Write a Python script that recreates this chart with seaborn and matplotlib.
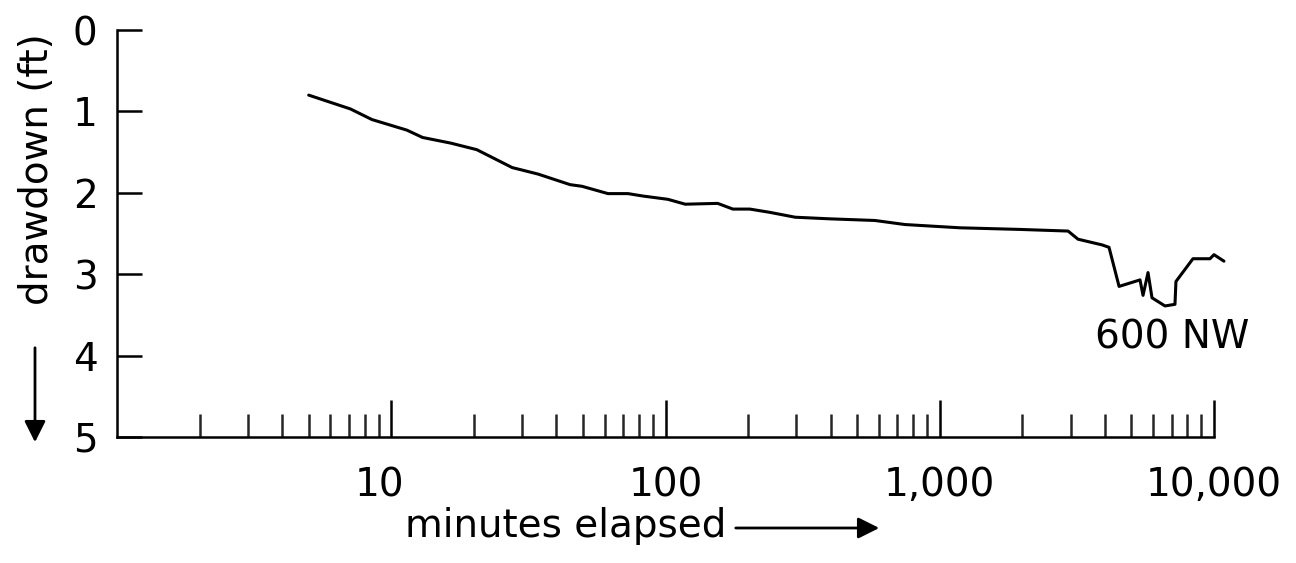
import matplotlib
matplotlib.use("Agg")
import matplotlib.pyplot as plt
import matplotlib.ticker as mticker
import matplotlib.transforms as mtransforms
import seaborn as sns
import pandas as pd

# data (minutes elapsed vs drawdown in ft)
minutes = [5.0, 7.1, 8.5, 11.4, 13.0, 16.5, 20.5, 27.6, 34.3, 44.9, 49.6, 61.7,
           73.0, 82.8, 102, 118, 155, 176, 203, 240, 297, 398, 580, 747, 1186,
           1962, 2937, 3192, 3907, 4142, 4507, 5373, 5511, 5747, 5942, 6627,
           7206, 7265, 8380, 9669, 10000, 10873]
drawdown = [0.80, 0.97, 1.10, 1.23, 1.32, 1.39, 1.47, 1.69, 1.77, 1.90, 1.92, 2.01,
            2.01, 2.04, 2.08, 2.14, 2.13, 2.20, 2.20, 2.24, 2.30, 2.32, 2.34, 2.39, 2.43,
            2.45, 2.47, 2.57, 2.64, 2.67, 3.15, 3.07, 3.26, 2.98, 3.29, 3.39,
            3.37, 3.09, 2.81, 2.81, 2.76, 2.84]
x_major = [10, 100, 1000, 10000]
x_major_labels = ["10", "100", "1,000", "10,000"]
y_ticks = [0, 1, 2, 3, 4, 5]
y_tick_labels = ["0", "1", "2", "3", "4", "5"]
well_label = "600 NW"

df = pd.DataFrame({"minutes": minutes, "drawdown": drawdown})

sns.set_style("white")
plt.rcParams["font.family"] = ["DejaVu Sans"]

FS = 28
W, H = 1296, 563
fig = plt.figure(figsize=(W / 100, H / 100), dpi=100)
left_px, right_px, top_px, bot_px = 117, 1232, 30, 437
ax = fig.add_axes([left_px / W, 1 - bot_px / H, (right_px - left_px) / W, (bot_px - top_px) / H])

sns.lineplot(data=df, x="minutes", y="drawdown", ax=ax, color="black",
             linewidth=2.2, sort=False, estimator=None)

ax.set_xscale("log")
xmax = 10 ** ((right_px - left_px) / 274.25)
ax.set_xlim(1, xmax)
ax.set_ylim(5, 0)

for s in ["top", "right"]:
    ax.spines[s].set_visible(False)
for s in ["left", "bottom"]:
    ax.spines[s].set_linewidth(1.8)
    ax.spines[s].set_color("black")
ax.spines["left"].set_bounds(0, 5)
ax.spines["bottom"].set_bounds(1, 10000)

ax.xaxis.set_major_locator(mticker.FixedLocator(x_major))
ax.xaxis.set_major_formatter(mticker.FixedFormatter(x_major_labels))
minors = [m * d for d in [1, 10, 100, 1000] for m in range(2, 10)]
ax.xaxis.set_minor_locator(mticker.FixedLocator(minors))
ax.xaxis.set_minor_formatter(mticker.NullFormatter())

ax.set_yticks(y_ticks)
ax.set_yticklabels(y_tick_labels)

ax.tick_params(axis="x", which="major", direction="in", length=26.5, width=1.8,
               labelsize=FS, pad=21, colors="black", bottom=True)
ax.tick_params(axis="x", which="minor", direction="in", length=16.5, width=1.8,
               bottom=True)
ax.tick_params(axis="y", which="major", direction="in", length=18, width=1.8,
               labelsize=FS, pad=14, colors="black", left=True)

# the "10" label sits slightly left of its tick in the reference
lbl10 = ax.get_xticklabels()[0]
lbl10.set_transform(lbl10.get_transform() +
                    mtransforms.ScaledTranslation(-12 / 100, 0, fig.dpi_scale_trans))

ax.set_xlabel("")
ax.set_ylabel("")
ax.grid(False)

ax.text(7030, 3.78, well_label, ha="center", va="center", fontsize=FS, color="black")

# axis titles with arrows
fig.text(37 / W, 1 - 169 / H, "drawdown (ft)", rotation=90, ha="center", va="center",
         fontsize=FS, color="black")
fig.text(566 / W, 1 - 526 / H, "minutes elapsed", ha="center", va="center",
         fontsize=FS, color="black")
fig.patches.append(matplotlib.patches.FancyArrowPatch(
    (35 / W, 1 - 345 / H), (35 / W, 1 - 445 / H), transform=fig.transFigure,
    arrowstyle="-|>", mutation_scale=32, lw=2.0, color="black"))
fig.patches.append(matplotlib.patches.FancyArrowPatch(
    (733 / W, 1 - 528 / H), (882 / W, 1 - 528 / H), transform=fig.transFigure,
    arrowstyle="-|>", mutation_scale=32, lw=2.0, color="black"))

fig.savefig("out.png", dpi=100, facecolor="white")
